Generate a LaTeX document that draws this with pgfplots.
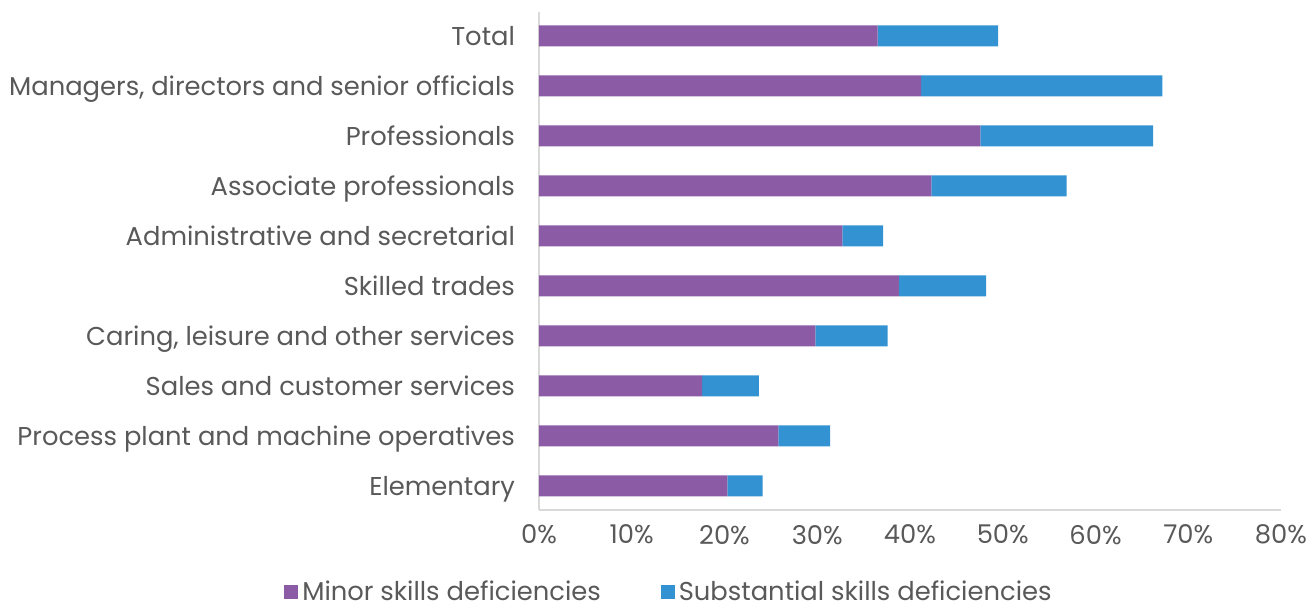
\documentclass[border=0pt]{standalone}
\usepackage{pgfplots}
\pgfplotsset{compat=1.18}
\usepackage{fontspec}
\setmainfont{Poppins}
\definecolor{minor}{HTML}{8C5BA5}
\definecolor{subst}{HTML}{3393D2}
\definecolor{txt}{HTML}{595959}
\definecolor{axl}{HTML}{D9D9D9}
\begin{document}
\begin{tikzpicture}[x=1pt,y=1pt]
\useasboundingbox (0,0) rectangle (656,305);
\begin{axis}[
  at={(269.5pt,50pt)}, anchor=south west,
  scale only axis, width=371pt, height=249pt,
  xbar stacked, bar width=10.5pt,
  xmin=0, xmax=80, ymin=-0.48, ymax=9.48,
  xtick={0,10,...,80},
  xticklabel={\pgfmathprintnumber{\tick}\%},
  ytick={0,...,9},
  yticklabels={Elementary,Process plant and machine operatives,Sales and customer services,{Caring, leisure and other services},Skilled trades,Administrative and secretarial,Associate professionals,Professionals\ ,{Managers, directors and senior officials},Total},
  axis x line*=bottom, axis y line*=left,
  axis line style={draw=axl, line width=0.75pt, -},
  major tick length=0pt,
  tick label style={font=\fontsize{12.9}{14}\selectfont, text=txt},
  /pgf/number format/assume math mode=true,
  yticklabel style={xshift=-8.5pt, yshift=-1pt, text height=1.6ex, text depth=0.25ex},
  xticklabel style={yshift=-4pt},
  legend style={at={(0.1765,-0.165)}, anchor=center, draw=none, fill=none,
    font=\fontsize{12.9}{14}\selectfont, text=txt, legend columns=2,
    /tikz/every even column/.append style={column sep=28pt}},
  legend image code/.code={\fill[#1] (0pt,-3.5pt) rectangle (7pt,3.5pt);},
]
\addplot[fill=minor, draw=none] coordinates {
(20.3,0) (25.8,1) (17.6,2) (29.8,3) (38.8,4) (32.7,5) (42.3,6) (47.6,7) (41.2,8) (36.5,9)};
\addplot[fill=subst, draw=none] coordinates {
(3.8,0) (5.6,1) (6.1,2) (7.8,3) (9.4,4) (4.4,5) (14.6,6) (18.6,7) (26.0,8) (13.0,9)};
\legend{Minor skills deficiencies, Substantial skills deficiencies}
\end{axis}
\end{tikzpicture}
\end{document}
